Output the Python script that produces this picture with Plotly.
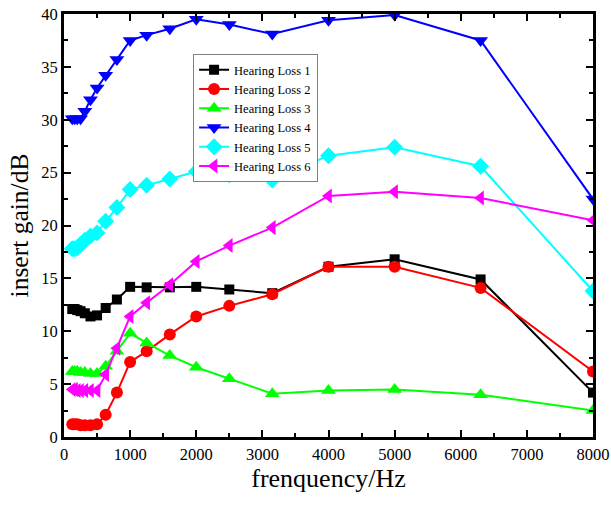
import plotly.graph_objects as go

freq = [125, 160, 200, 250, 315, 400, 500, 630, 800, 1000, 1250, 1600, 2000, 2500, 3150, 4000, 5000, 6300, 8000]

hl1 = [12.1, 12.1, 12.0, 11.9, 11.7, 11.4, 11.5, 12.2, 13.0, 14.2, 14.15, 14.15, 14.2, 13.95, 13.6, 16.1, 16.8, 14.9, 4.2]
hl2 = [1.2, 1.2, 1.2, 1.1, 1.1, 1.1, 1.2, 2.1, 4.2, 7.1, 8.1, 9.7, 11.4, 12.4, 13.5, 16.1, 16.1, 14.1, 6.2]
hl3 = [6.2, 6.2, 6.2, 6.1, 6.1, 6.0, 6.0, 6.7, 8.1, 9.8, 8.9, 7.7, 6.6, 5.5, 4.1, 4.4, 4.5, 4.0, 2.5]
hl4 = [30.1, 30.1, 30.1, 30.1, 30.8, 31.9, 33.0, 34.2, 35.7, 37.5, 38.0, 38.6, 39.5, 39.0, 38.1, 39.4, 39.9, 37.5, 22.5]
hl5 = [17.8, 17.8, 17.9, 18.2, 18.6, 19.0, 19.3, 20.4, 21.7, 23.4, 23.8, 24.4, 25.1, 24.8, 24.3, 26.6, 27.4, 25.6, 13.8]
hl6 = [4.5, 4.5, 4.4, 4.4, 4.4, 4.4, 4.4, 5.9, 8.4, 11.4, 12.7, 14.4, 16.6, 18.1, 19.8, 22.8, 23.2, 22.6, 20.5]

names = ["Hearing Loss 1", "Hearing Loss 2", "Hearing Loss 3", "Hearing Loss 4", "Hearing Loss 5", "Hearing Loss 6"]
series = [hl1, hl2, hl3, hl4, hl5, hl6]
colors = ["#000000", "#FF0000", "#00FF00", "#0000FF", "#00FFFF", "#FF00FF"]
symbols = ["square", "circle", "triangle-up", "triangle-down", "diamond", "triangle-left"]
sizes = [10, 12, 13, 13, 13, 13]

fig = go.Figure()
for n, s, c, sym, sz in zip(names, series, colors, symbols, sizes):
    fig.add_trace(go.Scatter(
        x=freq, y=s, name=n, mode="lines+markers",
        line=dict(color=c, width=2),
        marker=dict(symbol=sym, size=sz, color=c, line=dict(width=0)),
    ))

font_family = "Liberation Serif, Times New Roman, serif"
axis_common = dict(
    showline=True, linecolor="black", linewidth=3, mirror="ticks",
    ticks="inside", tickcolor="black", tickwidth=2, ticklen=7,
    showgrid=False, zeroline=False, automargin=False,
    tickfont=dict(family=font_family, size=16.5, color="black"),
)

fig.update_xaxes(
    range=[0, 8000], dtick=1000, tick0=0,
    title=dict(text="frenquency/Hz", font=dict(family=font_family, size=26, color="black"), standoff=7),
    minor=dict(ticks="inside", dtick=500, ticklen=4, tickwidth=2, tickcolor="black"),
    **axis_common,
)
fig.update_yaxes(
    range=[0, 40], dtick=5, tick0=0,
    title=dict(text="insert gain/dB", font=dict(family=font_family, size=25.5, color="black"), standoff=6),
    minor=dict(ticks="inside", dtick=2.5, ticklen=4, tickwidth=2, tickcolor="black"),
    **axis_common,
)

fig.update_layout(
    width=611, height=506,
    margin=dict(l=64, r=18, t=14, b=69),
    plot_bgcolor="white", paper_bgcolor="white",
    showlegend=True,
    legend=dict(
        x=0.244, y=0.905, xanchor="left", yanchor="top",
        bgcolor="white", bordercolor="#808080", borderwidth=1,
        font=dict(family=font_family, size=12.5, color="black"),
        tracegroupgap=0, itemsizing="trace", itemwidth=30,
    ),
)

fig.write_html("out.html")
